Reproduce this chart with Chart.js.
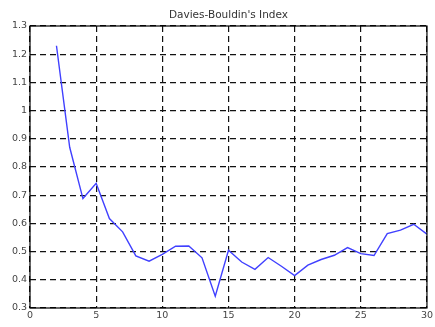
<!DOCTYPE html>
<html>
<head>
<meta charset="utf-8">
<script src="https://cdn.jsdelivr.net/npm/chart.js@4/dist/chart.umd.min.js"></script>
<style>
  html, body { margin: 0; padding: 0; background: #fff; }
  #wrap { width: 435px; height: 327px; }
</style>
</head>
<body>
<div id="wrap"><canvas id="dbChart"></canvas></div>
<script>
// number of clusters
var clusters = [2, 3, 4, 5, 6, 7, 8, 9, 10, 11, 12, 13, 14, 15, 16,
    17, 18, 19, 20, 21, 22, 23, 24, 25, 26, 27, 28, 29, 30];
// Davies-Bouldin values
var dbIndex = [1.23, 0.87, 0.688, 0.742, 0.617, 0.57, 0.485, 0.466, 0.49, 0.519, 0.52, 0.478, 0.342, 0.505, 0.463,
    0.437, 0.479, 0.448, 0.415, 0.452, 0.472, 0.487, 0.514, 0.493, 0.486, 0.564, 0.576, 0.597, 0.562];
var titleText = "Davies-Bouldin's Index";

var points = [];
for (var i = 0; i < clusters.length; i++) {
    points.push({ x: clusters[i], y: dbIndex[i] });
}

//frame round the plot + title centred over the plot (not the canvas)
var frameBox = {
    id: 'frameBox',
    afterDatasetsDraw: function (chart) {
        var a = chart.chartArea;
        var ctx = chart.ctx;
        ctx.save();
        ctx.strokeStyle = '#000';
        ctx.lineWidth = 1.2;
        ctx.strokeRect(a.left, a.top, a.right - a.left, a.bottom - a.top);

        ctx.fillStyle = '#333';
        ctx.font = '10.5px "DejaVu Sans", Verdana, sans-serif';
        ctx.textAlign = 'center';
        ctx.textBaseline = 'middle';
        ctx.fillText(titleText, (a.left + a.right) / 2, a.top - 11);
        ctx.restore();
    }
};

var tickFont = { family: 'DejaVu Sans, Verdana, sans-serif', size: 9.5 };

var ctx = document.getElementById('dbChart').getContext('2d');
var dbChart = new Chart(ctx, {
    type: 'line',
    data: {
        datasets: [{
            data: points,
            borderColor: '#4040ff',
            borderWidth: 1.4,
            pointRadius: 0,
            fill: false,
            tension: 0
        }]
    },
    options: {
        responsive: true,
        maintainAspectRatio: false,
        animation: false,
        layout: { padding: { left: 0, right: 7, top: 26, bottom: 0 } },
        plugins: {
            legend: { display: false },
            tooltip: { enabled: false },
            title: { display: false }
        },
        scales: {
            x: {
                type: 'linear',
                min: 0,
                max: 30,
                ticks: { stepSize: 5, color: '#444', font: tickFont, padding: 2, maxRotation: 0 },
                grid: { color: '#111', lineWidth: 1.2, drawTicks: false },
                border: { display: false, dash: [6, 4] },
                afterFit: function (scale) { scale.height = 19; }
            },
            y: {
                min: 0.3,
                max: 1.3,
                ticks: {
                    stepSize: 0.1,
                    color: '#444',
                    font: tickFont,
                    padding: 3,
                    callback: function (v) { return String(+v.toFixed(1)); }
                },
                grid: { color: '#111', lineWidth: 1.2, drawTicks: false },
                border: { display: false, dash: [6, 4] },
                afterFit: function (scale) { scale.width = 30; }
            }
        }
    },
    plugins: [frameBox]
});
</script>
</body>
</html>
